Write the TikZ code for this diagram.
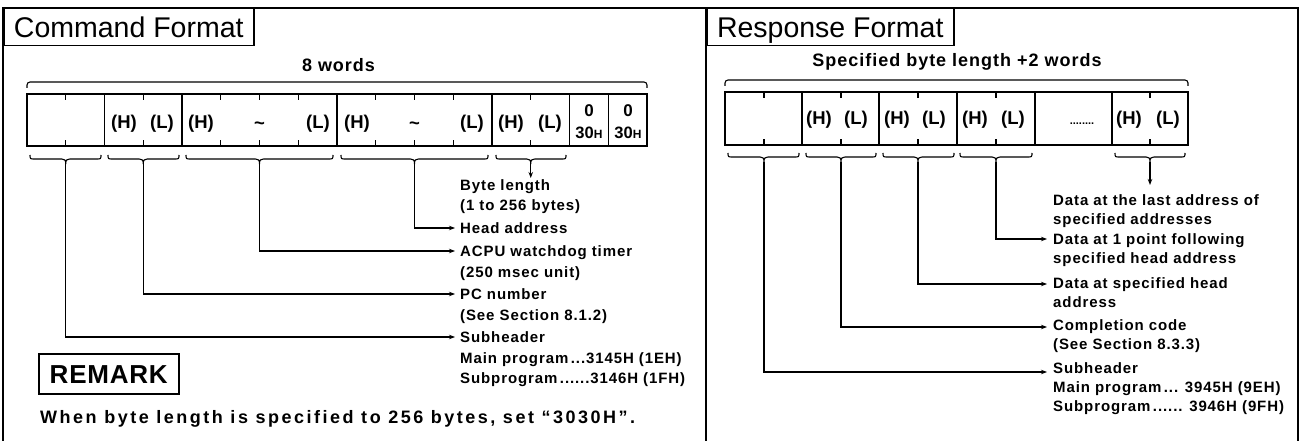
\documentclass[tikz,border=0pt]{standalone}
\usepackage{fontspec}
\setmainfont{Liberation Sans}
\newfontfamily\labfont[LetterSpace=6]{Liberation Sans}
\newfontfamily\wdfont[LetterSpace=5.5]{Liberation Sans}
\newfontfamily\remfont[LetterSpace=14]{Liberation Sans}
\newfontfamily\remhead[LetterSpace=3]{Liberation Sans}
\usetikzlibrary{arrows.meta}
\tikzset{
  frameline/.style={line width=2pt},
  cellline/.style={line width=1.2pt},
  braceline/.style={line width=1.1pt},
  leader/.style={line width=1.3pt,-{Stealth[length=6pt,width=4.5pt]}},
  titlebox/.style={draw,line width=1.5pt,anchor=north west,inner sep=0pt,
    font=\fontsize{28.5}{30}\selectfont,text height=20.5pt,text depth=0pt},
  celltxt/.style={inner sep=0pt,anchor=base,font=\bfseries\fontsize{18.5}{18.5}\selectfont},
  lab/.style={inner sep=0pt,anchor=base west,align=left,font=\labfont\bfseries\fontsize{15}{20.5}\selectfont},
  rlab/.style={lab,font=\labfont\bfseries\fontsize{15}{19}\selectfont},
  wordtxt/.style={inner sep=0pt,anchor=base,font=\wdfont\bfseries\fontsize{18}{18}\selectfont}
}
% under-brace: #1 left x, #2 tip x, #3 right x, #4 y, #5 tip name
\newcommand\ubrace[5]{%
  \draw[braceline] (#1,#4-4) .. controls (#1,#4) and (#1,#4) .. (#1+5,#4)
    -- (#2-4,#4) .. controls (#2-1,#4) and (#2,#4+1) .. (#2,#4+5)
    .. controls (#2,#4+1) and (#2+1,#4) .. (#2+4,#4)
    -- (#3-5,#4) .. controls (#3,#4) and (#3,#4) .. (#3,#4-4);
  \coordinate (#5) at (#2,#4+5);}
\newcommand\tickpair[4]{% x, top, bottom, length
  \draw[cellline] (#1,#2) -- (#1,#2+#4) (#1,#3) -- (#1,#3-#4);}
\begin{document}
\begin{tikzpicture}[x=1pt,y=-1pt]
\useasboundingbox (0,0) rectangle (1302,441);
% frame
\draw[frameline] (3,441) -- (3,8) -- (1298,8) -- (1298,441);
\draw[frameline] (706,8) -- (706,441);
% titles
\node[titlebox,minimum width=250pt,minimum height=37pt] (cmdT) at (3,8) {Command Format};
\node[titlebox,minimum width=247pt,minimum height=37pt] (rspT) at (706,8) {Response Format};

% ---------------- Command format ----------------
\node[wordtxt] (w8) at (338.5,72) {8 words};
\draw[braceline,rounded corners=3pt] (27,88) -- (27,82) -- (647,82) -- (647,88);
\draw[cellline] (27,94) rectangle (647,146);
\foreach \x in {104.5,182,337,492,569.5,608.25} \draw[cellline] (\x,94) -- (\x,146);
\foreach \x in {65.75,143.25,220.75,259.5,298.25,375.75,414.5,453.25,530.75}
  \tickpair{\x}{94}{146}{6};
\node[celltxt] (c2h) at (124,128.5) {(H)};
\node[celltxt] (c2l) at (162,128.5) {(L)};
\node[celltxt] (c3h) at (201,128.5) {(H)};
\node[celltxt] (c3t) at (259.5,130) {\textasciitilde};
\node[celltxt] (c3l) at (318,128.5) {(L)};
\node[celltxt] (c5h) at (357,128.5) {(H)};
\node[celltxt] (c5t) at (414.5,130) {\textasciitilde};
\node[celltxt] (c5l) at (472,128.5) {(L)};
\node[celltxt] (c7h) at (511,128.5) {(H)};
\node[celltxt] (c7l) at (550,128.5) {(L)};
\node[celltxt,font=\bfseries\fontsize{17}{17}\selectfont] (z1) at (589,117) {0};
\node[celltxt,font=\bfseries\fontsize{17}{17}\selectfont] (z2) at (628,117) {0};
\node[celltxt,font=\bfseries\fontsize{16.5}{16.5}\selectfont] (h1) at (589,139) {30{\fontsize{12}{12}\selectfont H}};
\node[celltxt,font=\bfseries\fontsize{16.5}{16.5}\selectfont] (h2) at (628,139) {30{\fontsize{12}{12}\selectfont H}};

\ubrace{30}{65.75}{101}{159}{tE}
\ubrace{108}{143.25}{179}{159}{tD}
\ubrace{186}{259.5}{333}{159}{tC}
\ubrace{341}{414.5}{488}{159}{tB}
\ubrace{496}{530.75}{566}{159}{tA}

\coordinate (eA) at (530.75,178);
\coordinate (eB) at (455,228);
\coordinate (eC) at (455,251);
\coordinate (eD) at (455,294);
\coordinate (eE) at (455,337);
\draw[leader] (tA) -- (eA);
\draw[leader] (tB) |- (eB);
\draw[leader] (tC) |- (eC);
\draw[leader] (tD) |- (eD);
\draw[leader] (tE) |- (eE);

% multi-line nodes: base anchor is the baseline of the last line
\node[lab] (lA) at (460,211) {Byte length\\(1 to 256 bytes)};
\node[lab] (lB) at (460,233.5) {Head address};
\node[lab] (lC) at (460,277) {ACPU watchdog timer\\(250 msec unit)};
\node[lab] (lD) at (460,320) {PC number\\(See Section 8.1.2)};
\node[lab] (lE) at (460,383.5) {Subheader\\Main program\,...3145H (1EH)\\Subprogram\,......3146H (1FH)};

\node[draw,line width=1.5pt,anchor=north west,minimum width=140pt,minimum height=40pt,inner sep=0pt,
  text height=18.6pt,text depth=0pt,font=\remhead\bfseries\fontsize{26}{28}\selectfont] (remark) at (38,353) {REMARK};
\node[inner sep=0pt,anchor=base west,font=\remfont\bfseries\fontsize{18}{20}\selectfont] (remtxt) at (40,423)
  {When byte length is specified to 256 bytes, set “3030H”.};

% ---------------- Response format ----------------
\node[wordtxt] (wr) at (957,67) {Specified byte length +2 words};
\draw[braceline,rounded corners=3pt] (725,86) -- (725,80) -- (1188,80) -- (1188,86);
\draw[cellline] (725,92) rectangle (1188,145);
\foreach \x in {802,879,957,1035,1112} \draw[cellline] (\x,92) -- (\x,145);
\foreach \x in {764,841,918,996,1150} \tickpair{\x}{92}{145}{6};
\node[celltxt] (r2h) at (819,125) {(H)};
\node[celltxt] (r2l) at (856,125) {(L)};
\node[celltxt] (r3h) at (897,125) {(H)};
\node[celltxt] (r3l) at (934,125) {(L)};
\node[celltxt] (r4h) at (975,125) {(H)};
\node[celltxt] (r4l) at (1013,125) {(L)};
\node[celltxt,font=\bfseries\fontsize{11}{11}\selectfont] (rdots) at (1082,125) {........};
\node[celltxt] (r6h) at (1129,125) {(H)};
\node[celltxt] (r6l) at (1168,125) {(L)};

\ubrace{728}{764}{799}{157}{sE}
\ubrace{806}{841}{876}{157}{sD}
\ubrace{883}{918}{954}{157}{sC}
\ubrace{960}{996}{1032}{157}{sB}
\ubrace{1115}{1150}{1185}{157}{sA}

\coordinate (fA) at (1150,185);
\coordinate (fB) at (1047,239);
\coordinate (fC) at (1047,284);
\coordinate (fD) at (1047,327);
\coordinate (fE) at (1047,372);
\draw[leader] (sA) -- (fA);
\draw[leader] (sB) |- (fB);
\draw[leader] (sC) |- (fC);
\draw[leader] (sD) |- (fD);
\draw[leader] (sE) |- (fE);

\node[rlab] (mA) at (1053,224.5) {Data at the last address of\\specified addresses};
\node[rlab] (mB) at (1053,263.5) {Data at 1 point following\\specified head address};
\node[rlab] (mC) at (1053,307.5) {Data at specified head\\address};
\node[rlab] (mD) at (1053,349.5) {Completion code\\(See Section 8.3.3)};
\node[rlab] (mE) at (1053,411.5) {Subheader\\Main program\,... 3945H (9EH)\\Subprogram\,...... 3946H (9FH)};
\end{tikzpicture}
\end{document}
